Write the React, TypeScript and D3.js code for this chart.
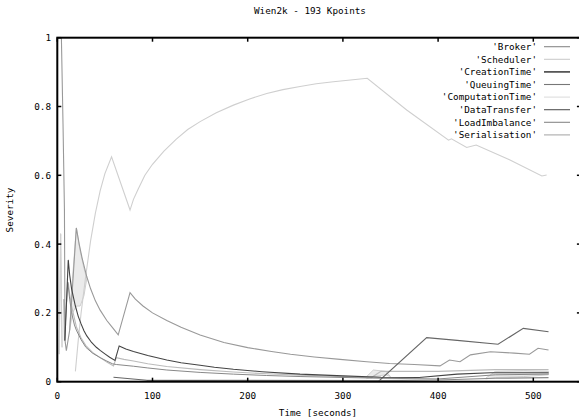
import React from 'react';
import * as d3 from 'd3';

// time [s], severity
const broker: [number, number][] = [
  [4.3, 1.0], [6, 0.75], [7.5, 0.5], [8.1, 0.12], [9.5, 0.09], [13, 0.15], [20, 0.447],
  [23, 0.4], [26, 0.36], [31, 0.305], [35, 0.27], [40, 0.235], [45, 0.208], [52, 0.178],
  [58, 0.157], [64, 0.136], [76.4, 0.259], [82, 0.24], [90, 0.22], [100, 0.2], [115, 0.178],
  [130, 0.158], [150, 0.136], [175, 0.114], [200, 0.099], [225, 0.088], [245, 0.08],
  [270, 0.072], [297, 0.065], [325, 0.058], [349, 0.053], [375, 0.05], [402, 0.046],
  [412, 0.063], [423, 0.058], [434, 0.078], [455, 0.087], [480, 0.083], [496, 0.08],
  [505, 0.097], [516, 0.092],
];
const scheduler: [number, number][] = [
  [19, 0.03], [22, 0.12], [25, 0.2], [30, 0.31], [35, 0.41], [40, 0.49], [45, 0.555],
  [50, 0.605], [57, 0.654], [76.4, 0.499], [80, 0.53], [85, 0.56], [92, 0.6], [100, 0.632],
  [112, 0.67], [125, 0.705], [137, 0.733], [150, 0.756], [167, 0.782], [185, 0.804],
  [202, 0.822], [220, 0.838], [237, 0.849], [255, 0.858], [272, 0.866], [290, 0.872],
  [308, 0.877], [325.6, 0.882], [367, 0.79], [411, 0.702], [414, 0.706], [430, 0.681],
  [440, 0.688], [475, 0.645], [509, 0.598], [514, 0.601],
];
const creationTime: [number, number][] = [
  [8, 0.12], [11.5, 0.354], [13, 0.31], [15, 0.27], [19, 0.22], [22, 0.19], [25, 0.168],
  [28, 0.148], [31, 0.133], [36, 0.114], [41, 0.1], [45, 0.091], [50, 0.081], [55, 0.071],
  [60.6, 0.062], [65, 0.104], [72, 0.095], [80, 0.088], [95, 0.076], [115, 0.063],
  [130, 0.055], [150, 0.048], [165, 0.042], [185, 0.036], [215, 0.029], [255, 0.022],
  [300, 0.017], [340, 0.013], [380, 0.012], [420, 0.022], [455, 0.026], [516, 0.026],
];
const queuingTime: [number, number][] = [
  [7, 0.24], [7.5, 0.12], [11, 0.29], [13, 0.24], [15, 0.2], [18, 0.165], [20, 0.15],
  [25, 0.122], [30, 0.1], [37, 0.083], [45, 0.07], [52, 0.06], [58, 0.052], [62, 0.05],
  [80, 0.045], [95, 0.04], [115, 0.034], [150, 0.027], [185, 0.022], [220, 0.018],
  [255, 0.015], [340, 0.01], [400, 0.008], [460, 0.02], [516, 0.022],
];
// computation time drawn as a band: time, low, high (null = gap)
const computationTime: ([number, number, number] | null)[] = [
  [2, 0.08, 0.08], [3.5, 0.43, 0.43], [5, 0.1, 0.1], null,
  [13, 0.15, 0.15], [16, 0.2, 0.3], [20, 0.22, 0.447], [24, 0.22, 0.38], [28, 0.25, 0.33], [31, 0.3, 0.3], null,
  [325, 0.01, 0.015], [332, 0.015, 0.034], [345, 0.02, 0.03], [350, 0.015, 0.015], null,
  [450, 0.008, 0.01], [460, 0.012, 0.03], [490, 0.015, 0.032], [516, 0.02, 0.03],
];
const dataTransfer: [number, number][] = [
  [59, 0.013], [94, 0.004], [186, 0.002], [337, 0.0], [388, 0.128], [420, 0.12],
  [463, 0.109], [489.5, 0.155], [516, 0.145],
];
const loadImbalance: [number, number][] = [
  [94, 0.004], [190, 0.004], [340, 0.003], [400, 0.005], [460, 0.01], [516, 0.012],
];
const serialisation: [number, number][] = [
  [11.6, 0.286], [13, 0.255], [15, 0.22], [17.5, 0.19], [20, 0.16], [25, 0.127],
  [30, 0.105], [37, 0.085], [45, 0.07], [52, 0.057], [59, 0.046], [62, 0.07], [70, 0.065],
  [80, 0.06], [95, 0.052], [115, 0.044], [150, 0.035], [185, 0.028], [220, 0.023],
  [255, 0.019], [330, 0.012], [340, 0.03], [400, 0.03], [460, 0.035], [516, 0.035],
];

const legendNames = ["'Broker'", "'Scheduler'", "'CreationTime'", "'QueuingTime'",
  "'ComputationTime'", "'DataTransfer'", "'LoadImbalance'", "'Serialisation'"];
const legendColors = ['#888', '#ccc', '#444', '#777', '#ddd', '#555', '#888', '#aaa'];

const xTicks = [0, 100, 200, 300, 400, 500];
const yTicks = [0, 0.2, 0.4, 0.6, 0.8, 1];

const W = 579, H = 419;
const FONT = "'DejaVu Sans Mono', monospace";

export default function App() {
  const x = d3.scaleLinear().domain([0, 550]).range([57.3, 580.9]);
  const y = d3.scaleLinear().domain([0, 1]).range([381.7, 37.7]);
  const [x0, x1] = x.range();
  const [y0, y1] = y.range();

  const line = d3.line<[number, number]>().x(d => x(d[0])).y(d => y(d[1]));
  const band = d3.area<[number, number, number] | null>()
    .defined(d => d !== null)
    .x(d => x(d![0])).y0(d => y(d![1])).y1(d => y(d![2]));

  const lines: { data: [number, number][]; color: string; w: number }[] = [
    { data: scheduler, color: '#cfcfcf', w: 1.1 },
    { data: serialisation, color: '#bbb', w: 1.1 },
    { data: queuingTime, color: '#888', w: 1 },
    { data: loadImbalance, color: '#888', w: 1.2 },
    { data: broker, color: '#999', w: 1.1 },
    { data: dataTransfer, color: '#666', w: 1.1 },
    { data: creationTime, color: '#444', w: 1.1 },
  ];

  return (
    <svg width={W} height={H} style={{ position: 'absolute', left: 0, top: 0, background: '#fff' }}
      fontFamily={FONT} fontSize={9.3}>
      <defs>
        <clipPath id="plot"><rect x={x0} y={y1} width={x1 - x0} height={y0 - y1} /></clipPath>
      </defs>
      <text x={310} y={14} textAnchor="middle">Wien2k - 193 Kpoints</text>

      <g clipPath="url(#plot)">
        <path d={band(computationTime) || ''} fill="#ebebeb" stroke="#cfcfcf" strokeWidth={1} />
        {lines.map((l, i) => (
          <path key={i} d={line(l.data) || ''} fill="none" stroke={l.color} strokeWidth={l.w} />
        ))}
      </g>

      {/* frame */}
      <rect x={x0} y={y1} width={x1 - x0} height={y0 - y1} fill="none" stroke="#000" strokeWidth={2} />
      {xTicks.map(t => (
        <g key={'x' + t}>
          <line x1={x(t)} x2={x(t)} y1={y0} y2={y0 - 4} stroke="#000" strokeWidth={1.5} />
          <line x1={x(t)} x2={x(t)} y1={y1} y2={y1 + 4} stroke="#000" strokeWidth={1.5} />
          <text x={x(t)} y={399} textAnchor="middle">{t}</text>
        </g>
      ))}
      {yTicks.map(t => (
        <g key={'y' + t}>
          <line x1={x0} x2={x0 + 4} y1={y(t)} y2={y(t)} stroke="#000" strokeWidth={1.5} />
          <line x1={x1} x2={x1 - 4} y1={y(t)} y2={y(t)} stroke="#000" strokeWidth={1.5} />
          <text x={51} y={y(t) + 3.5} textAnchor="end">{t}</text>
        </g>
      ))}
      <text x={318} y={416} textAnchor="middle">Time [seconds]</text>
      <text transform="translate(13,210) rotate(-90)" textAnchor="middle">Severity</text>

      {/* legend */}
      {legendNames.map((n, i) => {
        const cy = 46.7 + i * 12.6;
        return (
          <g key={n}>
            <text x={537} y={cy + 3.3} textAnchor="end">{n}</text>
            <line x1={544} x2={570} y1={cy} y2={cy} stroke={legendColors[i]}
              strokeWidth={i === 2 ? 1.6 : 1.1} />
          </g>
        );
      })}
    </svg>
  );
}
